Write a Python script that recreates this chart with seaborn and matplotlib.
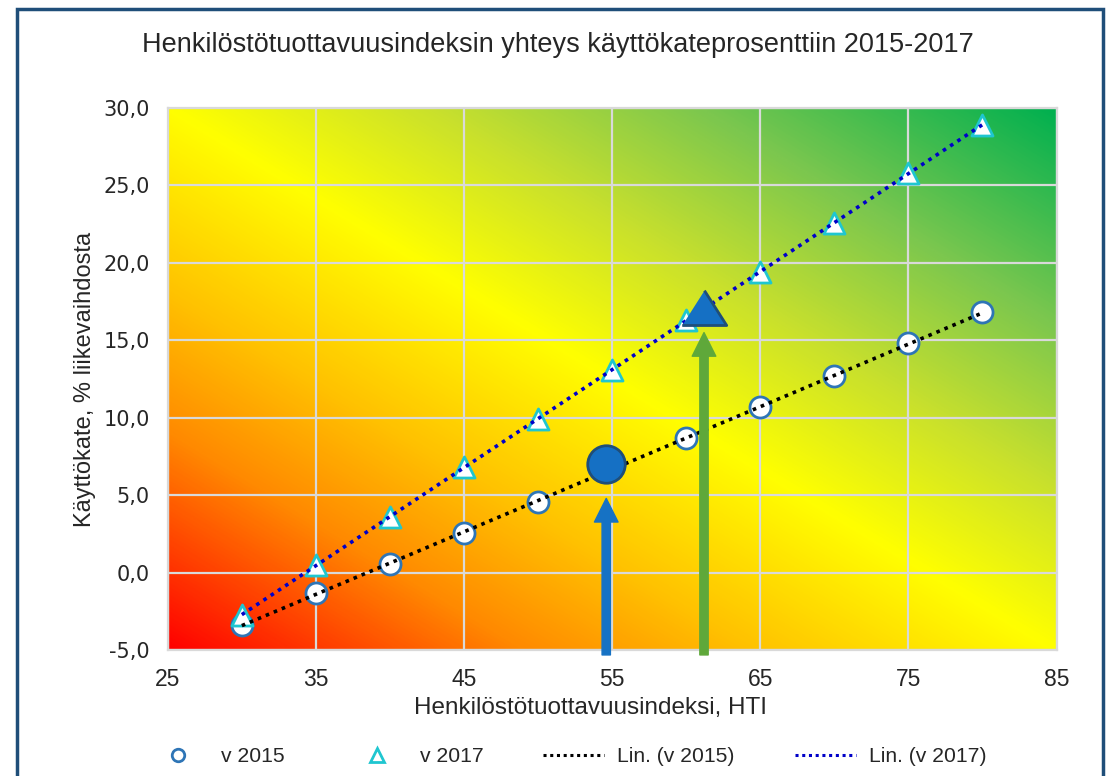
import numpy as np
import pandas as pd
import matplotlib
matplotlib.use("Agg")
import matplotlib.pyplot as plt
import seaborn as sns
from matplotlib.colors import LinearSegmentedColormap
from matplotlib.lines import Line2D
from matplotlib.patches import Rectangle
from matplotlib.ticker import FuncFormatter

# data
hti = [30, 35, 40, 45, 50, 55, 60, 65, 70, 75, 80]
kate_2015 = [-3.4, -1.3, 0.6, 2.6, 4.6, 6.7, 8.7, 10.7, 12.7, 14.8, 16.8]
kate_2017 = [-2.7, 0.5, 3.6, 6.8, 9.9, 13.1, 16.3, 19.4, 22.6, 25.8, 28.9]

# highlighted positions (2015 and 2017)
own_hti = [54.6, 61.2]
own_kate = [7.05, 17.0]
arrow_top = [4.8, 15.5]

x_ticks = [25, 35, 45, 55, 65, 75, 85]
y_ticks = [-5, 0, 5, 10, 15, 20, 25, 30]

TITLE = "Henkilöstötuottavuusindeksin yhteys käyttökateprosenttiin 2015-2017"
XLABEL = "Henkilöstötuottavuusindeksi, HTI"
YLABEL = "Käyttökate, % liikevaihdosta"

df = pd.DataFrame({"hti": hti, "v2015": kate_2015, "v2017": kate_2017})

sns.set_style("white")
plt.rcParams["font.family"] = ["Liberation Sans", "DejaVu Sans"]
TXT = "#262626"

fig = plt.figure(figsize=(11.11, 7.76), dpi=100)
ax = fig.add_axes([0.151, 0.162, 0.8, 0.699])

# outer frame
fig.patches.append(Rectangle((0.0155, -0.05), 0.977, 1.039, transform=fig.transFigure,
                             fill=False, edgecolor="#1F4E79", lw=2.5, zorder=10))

# diagonal gradient background
cmap = LinearSegmentedColormap.from_list("rg", [
    (0.0, "#FF0000"), (0.2, "#FF8A00"), (0.33, "#FFC200"), (0.5, "#FFFF00"),
    (0.65, "#C8E02D"), (0.8, "#7CC74E"), (1.0, "#00B050")])
u, v = np.meshgrid(np.linspace(0, 1, 400), np.linspace(0, 1, 400))
ax.imshow((u + v) / 2, cmap=cmap, origin="lower", extent=[0, 1, 0, 1],
          transform=ax.transAxes, aspect="auto", zorder=0, interpolation="bilinear")

ax.set_xlim(25, 85)
ax.set_ylim(-5, 30)
ax.set_xticks(x_ticks)
ax.set_yticks(y_ticks)
ax.grid(True, color="#D9D9D9", lw=1.6, zorder=1)
ax.set_axisbelow(False)
for sp in ax.spines.values():
    sp.set_color("#D9D9D9")
    sp.set_linewidth(1.6)
ax.tick_params(axis="x", length=0, pad=13)
ax.tick_params(axis="y", length=0, pad=13)
ax.yaxis.set_major_formatter(FuncFormatter(lambda y, _: f"{y:.1f}".replace(".", ",")))
for lab in ax.get_yticklabels():
    lab.set_fontfamily("DejaVu Sans")
    lab.set_fontsize(15)
    lab.set_color(TXT)
for lab in ax.get_xticklabels():
    lab.set_fontsize(16.5)
    lab.set_color(TXT)

# series markers
sns.scatterplot(data=df, x="hti", y="v2015", ax=ax, marker="o", s=230,
                facecolor="white", edgecolor="#2E75B6", linewidth=2, zorder=3)
sns.scatterplot(data=df, x="hti", y="v2017", ax=ax, marker="^", s=230,
                facecolor="white", edgecolor="#1FC6D0", linewidth=2, zorder=3)

# linear trend lines
sns.regplot(data=df, x="hti", y="v2015", ax=ax, scatter=False, ci=None,
            line_kws=dict(color="black", lw=2.6, ls=(0, (1, 1.4)), zorder=4))
sns.regplot(data=df, x="hti", y="v2017", ax=ax, scatter=False, ci=None,
            line_kws=dict(color="#0000C8", lw=2.6, ls=(0, (1, 1.4)), zorder=4))
ax.set_xlabel("")
ax.set_ylabel("")

# highlighted points
big_tri = [(-1, -0.72), (1, -0.72), (0, 0.85)]
ax.plot(own_hti[0], own_kate[0], marker="o", ms=27, mfc="#1570C4", mec="#1F4E79",
        mew=2, zorder=6, clip_on=False)
ax.plot(own_hti[1], own_kate[1], marker=big_tri, ms=32, mfc="#1570C4", mec="#1F4E79",
        mew=2, zorder=6, clip_on=False)

# arrows
for xx, top, col in zip(own_hti, arrow_top, ["#1672C4", "#5FA83A"]):
    ax.annotate("", xy=(xx, top), xytext=(xx, -5.3), annotation_clip=False,
                arrowprops=dict(arrowstyle="simple,head_length=1.7,head_width=1.7,tail_width=0.6",
                                mutation_scale=10, color=col, shrinkA=0, shrinkB=0),
                zorder=5)

fig.text(591 / 1111, 1 - 708 / 776, XLABEL, ha="center", va="center", fontsize=17.5, color=TXT)
fig.text(85 / 1111, 1 - 379 / 776, YLABEL, ha="center", va="center", rotation=90,
         fontsize=17, color=TXT)
fig.text(558 / 1111, 1 - 45 / 776, TITLE, ha="center", va="center", fontsize=19.5, color=TXT)

# legend entries placed one by one
entries = [
    (Line2D([], [], ls="none", marker="o", ms=9, mfc="white", mec="#2E75B6", mew=2), "v 2015", 147),
    (Line2D([], [], ls="none", marker="^", ms=9.5, mfc="white", mec="#1FC6D0", mew=2), "v 2017", 346),
    (Line2D([], [], color="black", lw=2.2, ls=(0, (1, 1.2))), "Lin. (v 2015)", 543),
    (Line2D([], [], color="#0000C8", lw=2.2, ls=(0, (1, 1.2))), "Lin. (v 2017)", 795),
]
for h, lab, xpos in entries:
    leg = fig.legend([h], [lab], loc="center left", bbox_to_anchor=(xpos / 1111, 1 - 757 / 776),
                     frameon=False, fontsize=15.2, handlelength=2.9, handletextpad=0.6,
                     borderpad=0, borderaxespad=0)
    for t in leg.get_texts():
        t.set_color(TXT)

fig.savefig("out.png", dpi=100)
